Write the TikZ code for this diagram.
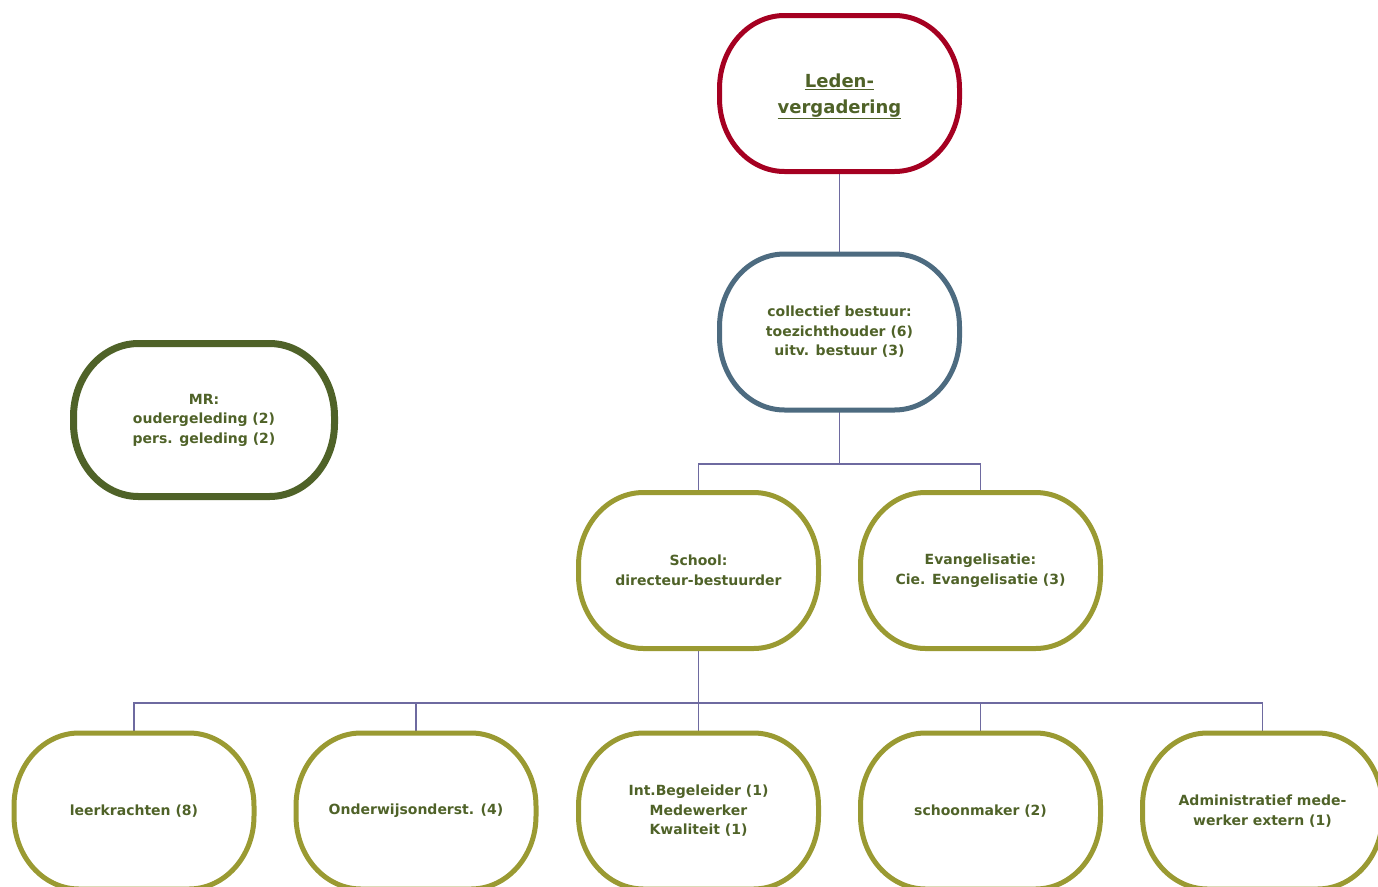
\documentclass[tikz,border=0pt]{standalone}
\usepackage{fontspec}
\setmainfont{DejaVu Sans}
\definecolor{txtgreen}{HTML}{4F6228}
\definecolor{ledenred}{HTML}{A50021}
\definecolor{bestuurblue}{HTML}{4D6B80}
\definecolor{olive}{HTML}{9A9A32}
\definecolor{mrgreen}{HTML}{4F6228}
\definecolor{linkcol}{HTML}{6E6AA0}
\tikzset{
  orgbox/.style={rectangle, minimum width=240pt, minimum height=156pt, outer sep=0pt,
    align=center, text=txtgreen, font=\fontsize{14}{19.5}\selectfont\bfseries},
  link/.style={draw=linkcol, line width=1.8pt},
  ovalline/.style={line width=5pt}
}
\def\orx{65pt}
\def\ory{73pt}
% draws an oval outline around a named node
\newcommand\orgoval[2]{%
  \draw[ovalline,#2] ([xshift=\orx]#1.north west) -- ([xshift=-\orx]#1.north east)
    arc[start angle=90,end angle=0,x radius=\orx,y radius=\ory]
    -- ([yshift=\ory]#1.south east)
    arc[start angle=0,end angle=-90,x radius=\orx,y radius=\ory]
    -- ([xshift=\orx]#1.south west)
    arc[start angle=-90,end angle=-180,x radius=\orx,y radius=\ory]
    -- ([yshift=-\ory]#1.north west)
    arc[start angle=180,end angle=90,x radius=\orx,y radius=\ory]
    -- cycle;}
\begin{document}
\begin{tikzpicture}[x=1pt,y=1pt]
\useasboundingbox (0,0) rectangle (1378,-886);
\node[orgbox, font=\fontsize{18}{26}\selectfont\bfseries, text depth=0pt] (leden) at (839.5,-93.5) {\underline{Leden-}\\\underline{vergadering}};
\node[orgbox] (coll) at (839.5,-332) {collectief bestuur:\\toezichthouder (6)\\uitv. bestuur (3)};
\node[orgbox, minimum width=261pt, minimum height=153pt] (mr) at (204,-420) {MR:\\oudergeleding (2)\\pers. geleding (2)};
\node[orgbox] (school) at (698.5,-570.5) {School:\\directeur-bestuurder};
\node[orgbox] (evan) at (980.5,-570.5) {Evangelisatie:\\Cie. Evangelisatie (3)};
\node[orgbox] (b1) at (134,-811) {leerkrachten (8)};
\node[orgbox] (b2) at (416,-811) {Onderwijsonderst. (4)};
\node[orgbox] (b3) at (698.5,-811) {Int.Begeleider (1)\\Medewerker\\Kwaliteit (1)};
\node[orgbox] (b4) at (980.5,-811) {schoonmaker (2)};
\node[orgbox] (b5) at (1262.5,-811) {Administratief mede-\\werker extern (1)};
\coordinate (j1) at (839.5,-464);
\coordinate (j2) at (698.5,-703);
\draw[link] (leden.south) -- (coll.north);
\draw[link] (coll.south) -- (j1);
\draw[link] (school.north) |- (j1) -| (evan.north);
\draw[link] (school.south) -- (j2);
\draw[link] (b1.north) |- (j2) -| (b5.north);
\draw[link] (b2.north) |- (j2);
\draw[link] (b4.north) |- (j2);
\draw[link] (b3.north) -- (j2);
\orgoval{leden}{draw=ledenred}
\orgoval{coll}{draw=bestuurblue}
\orgoval{mr}{draw=mrgreen, line width=7pt}
\orgoval{school}{draw=olive}
\orgoval{evan}{draw=olive}
\orgoval{b1}{draw=olive}
\orgoval{b2}{draw=olive}
\orgoval{b3}{draw=olive}
\orgoval{b4}{draw=olive}
\orgoval{b5}{draw=olive}
\end{tikzpicture}
\end{document}
